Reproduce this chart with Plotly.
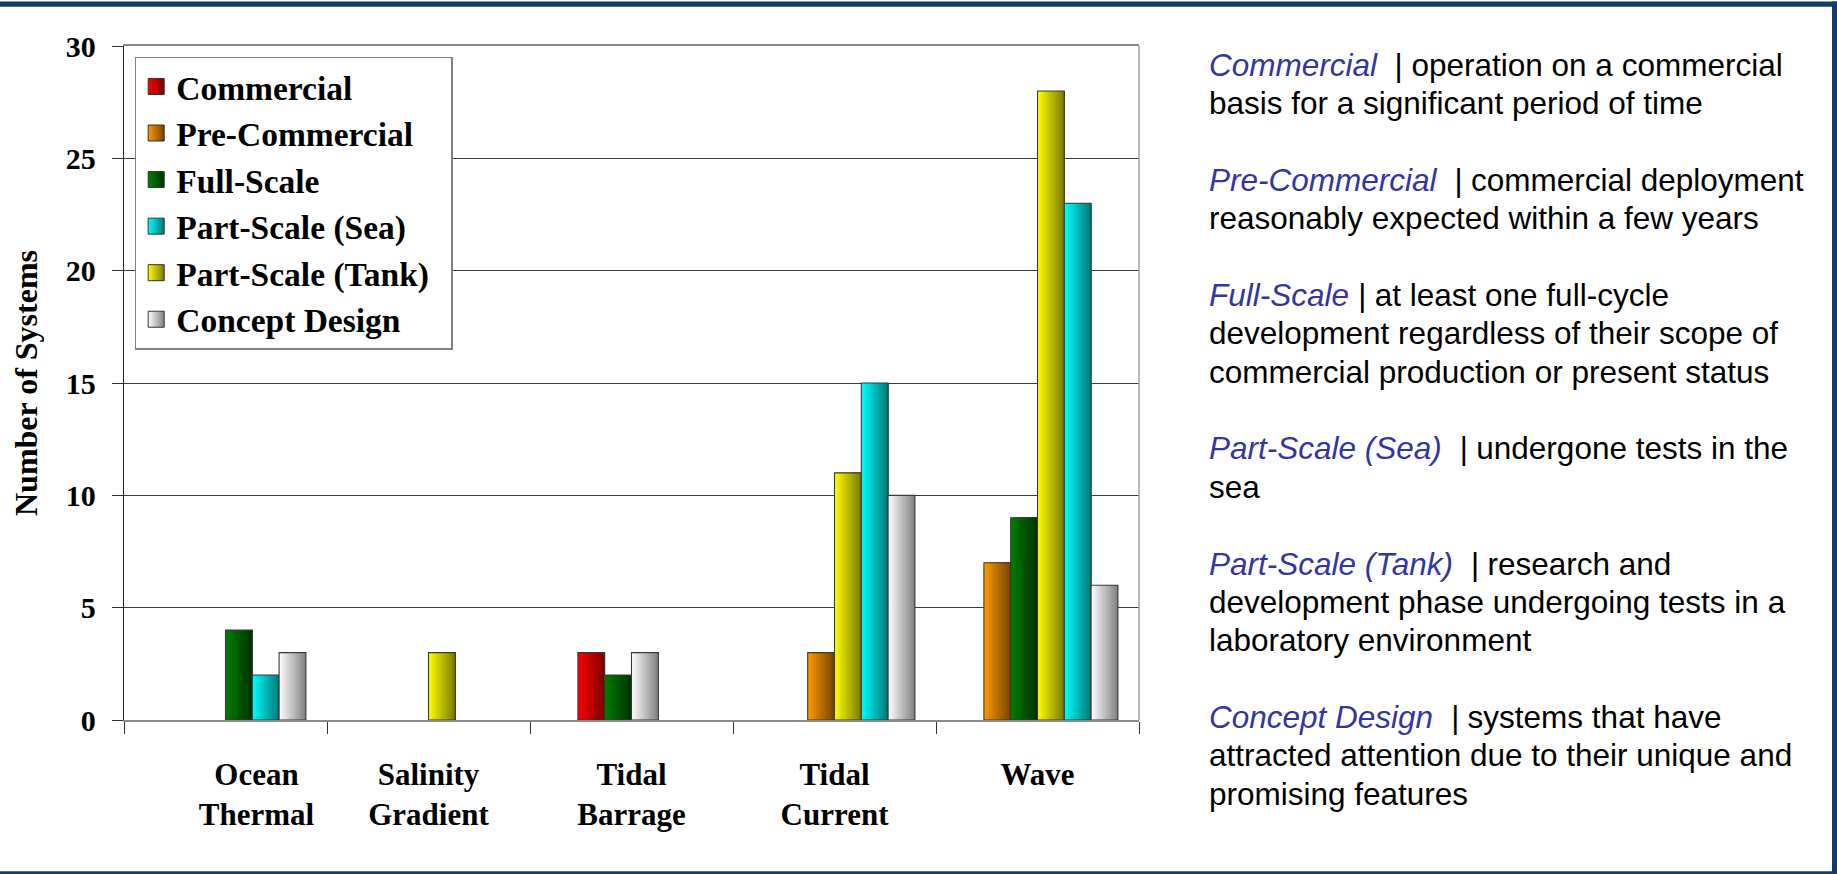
import plotly.graph_objects as go

# ---------------- data ----------------
CATEGORIES = ["Ocean Thermal", "Salinity Gradient", "Tidal Barrage", "Tidal Current", "Wave"]
CATEGORY_LINES = [["Ocean", "Thermal"], ["Salinity", "Gradient"], ["Tidal", "Barrage"],
                  ["Tidal", "Current"], ["Wave"]]

SERIES = ["Commercial", "Pre-Commercial", "Full-Scale", "Part-Scale (Sea)",
          "Part-Scale (Tank)", "Concept Design"]
COMMERCIAL = [0, 0, 3, 0, 0]
PRE_COMMERCIAL = [0, 0, 0, 3, 7]
FULL_SCALE = [4, 0, 2, 0, 9]
PART_SCALE_SEA = [2, 0, 0, 15, 23]
PART_SCALE_TANK = [0, 3, 0, 11, 28]
CONCEPT_DESIGN = [3, 0, 3, 10, 6]

Y_TICKS = [0, 5, 10, 15, 20, 25, 30]
Y_TITLE = "Number of Systems"

DEF_TERMS = ["Commercial", "Pre-Commercial", "Full-Scale", "Part-Scale (Sea)",
             "Part-Scale (Tank)", "Concept Design"]
DEF_FIRST = ["operation on a commercial", "commercial deployment", "at least one full-cycle",
             "undergone tests in the", "research and", "systems that have"]
DEF_MORE = [["basis for a significant period of time"],
            ["reasonably expected within a few years"],
            ["development regardless of their scope of", "commercial production or present status"],
            ["sea"],
            ["development phase undergoing tests in a", "laboratory environment"],
            ["attracted attention due to their unique and", "promising features"]]

# ---------------- styles / layout ----------------
VALUES = {
    "Commercial": COMMERCIAL, "Pre-Commercial": PRE_COMMERCIAL, "Full-Scale": FULL_SCALE,
    "Part-Scale (Sea)": PART_SCALE_SEA, "Part-Scale (Tank)": PART_SCALE_TANK,
    "Concept Design": CONCEPT_DESIGN,
}
# bright (left) -> dark (right) shading of each series
GRAD = {
    "Commercial": ("#FF0000", "#7A0000"),
    "Pre-Commercial": ("#FF9A00", "#744400"),
    "Full-Scale": ("#007F00", "#003200"),
    "Part-Scale (Sea)": ("#00FFFF", "#007878"),
    "Part-Scale (Tank)": ("#FFFF00", "#7A7A00"),
    "Concept Design": ("#FFFFFF", "#808080"),
}
BAR_ORDER = ["Commercial", "Pre-Commercial", "Full-Scale", "Part-Scale (Tank)",
             "Part-Scale (Sea)", "Concept Design"]
GROUP_START_SLOT = [3, 3, 1, 2, 1]   # where each category's packed group of bars begins
N_SLOTS = 6
SLOT_W = 0.132
N_STRIPS = 16
LABEL_PAD = {0: 8}                    # nbsp padding (first category label sits right)
LEGEND_RIGHT_PAD = 2                  # nbsp after legend names (wider legend box)

SERIF = "Liberation Serif, Times New Roman, serif"
SANS = "Liberation Sans, Arial, sans-serif"
BLUE = "#3535A0"
NAVY = "#123B6B"
NBSP = "\u00a0"

W, H = 1837, 874
ML, MR, MT, MB = 124, 698, 46, 154
PW, PH = W - ML - MR, H - MT - MB


def px_x(px):
    return (px - ML) / PW


def px_y(py):
    return (H - MB - py) / PH


def hex2rgb(h):
    h = h.lstrip("#")
    return tuple(int(h[i:i + 2], 16) for i in (0, 2, 4))


def mix(c1, c2, t):
    a, b = hex2rgb(c1), hex2rgb(c2)
    return "rgb(%d,%d,%d)" % tuple(round(a[k] + (b[k] - a[k]) * t) for k in range(3))


# slot offsets: non-zero bars are packed next to each other inside each category
offsets = {s: [0.0] * len(CATEGORIES) for s in SERIES}
for ci in range(len(CATEGORIES)):
    slot = GROUP_START_SLOT[ci]
    for s in BAR_ORDER:
        if VALUES[s][ci] > 0:
            offsets[s][ci] = (slot - N_SLOTS / 2) * SLOT_W
            slot += 1

fig = go.Figure()

for s in BAR_ORDER:
    yv = [v if v > 0 else None for v in VALUES[s]]
    bright, dark = GRAD[s]
    for i in range(N_STRIPS):
        t = (i + 0.5) / N_STRIPS
        fig.add_trace(go.Bar(
            x=CATEGORIES, y=yv,
            offset=[o + i * SLOT_W / N_STRIPS for o in offsets[s]],
            width=SLOT_W * (1 - i / N_STRIPS),
            marker=dict(color=mix(bright, dark, t), line=dict(width=0)),
            showlegend=False, hoverinfo="skip", name=s,
        ))
    fig.add_trace(go.Bar(
        x=CATEGORIES, y=yv, offset=offsets[s], width=SLOT_W,
        marker=dict(color="rgba(0,0,0,0)", line=dict(color="#383838", width=1.1)),
        showlegend=False, hoverinfo="skip", name=s,
    ))

# legend entries (shaded squares)
for s in SERIES:
    bright, dark = GRAD[s]
    fig.add_trace(go.Scatter(
        x=[None], y=[None], mode="markers", name=s + NBSP * LEGEND_RIGHT_PAD,
        marker=dict(symbol="square", size=16, color=bright,
                    gradient=dict(type="horizontal", color=dark),
                    line=dict(color="#333333", width=1)),
        hoverinfo="skip",
    ))

tick_text = []
for ci, lines in enumerate(CATEGORY_LINES):
    pad = NBSP * LABEL_PAD.get(ci, 0)
    tick_text.append("<br>".join(pad + ln for ln in lines))

fig.update_layout(
    width=W, height=H,
    margin=dict(l=ML, r=MR, t=MT, b=MB, pad=0),
    paper_bgcolor="white", plot_bgcolor="white",
    barmode="overlay",
    showlegend=True,
    legend=dict(
        x=px_x(134.7), y=px_y(56.7), xanchor="left", yanchor="top",
        bgcolor="white", bordercolor="#808080", borderwidth=1.5,
        font=dict(family=SERIF, size=33.5, color="black", weight="bold"),
        traceorder="normal", itemsizing="trace",
    ),
    font=dict(family=SERIF, color="black"),
)

fig.update_xaxes(
    type="category", range=[-0.5, len(CATEGORIES) - 0.5],
    tickmode="array", tickvals=CATEGORIES, ticktext=tick_text,
    tickson="boundaries", ticks="outside", ticklen=12, tickwidth=1.2, tickcolor="#333333",
    tickfont=dict(family=SERIF, size=31, color="black", weight="bold"),
    ticklabelstandoff=26,
    showline=True, linecolor="#8a8a8a", linewidth=1.5, mirror=True,
    showgrid=False, zeroline=False, fixedrange=True,
)
fig.update_yaxes(
    range=[0, 30], tickmode="array", tickvals=Y_TICKS, ticktext=[str(v) for v in Y_TICKS],
    ticks="outside", ticklen=11, tickwidth=1.2, tickcolor="#333333",
    tickfont=dict(family=SERIF, size=30, color="black", weight="bold"),
    ticklabelstandoff=10,
    showline=True, linecolor="#222222", linewidth=1.3,
    showgrid=True, gridcolor="#3a3a3a", gridwidth=1,
    zeroline=False, fixedrange=True,
    title=dict(text=Y_TITLE, font=dict(family=SERIF, size=32, color="black", weight="bold"),
               standoff=18),
    automargin=True,
)

shapes = [
    # plot area right border
    dict(type="line", xref="paper", yref="paper", x0=1, x1=1, y0=0, y1=1,
         line=dict(color="#a0a0a0", width=1.5)),
    # dark frame of the slide
    dict(type="rect", xref="paper", yref="paper", x0=px_x(0), x1=px_x(W),
         y0=px_y(6.8), y1=px_y(1.6), fillcolor=NAVY, line=dict(width=0), layer="above"),
    dict(type="rect", xref="paper", yref="paper", x0=px_x(1832), x1=px_x(W),
         y0=px_y(H), y1=px_y(1.6), fillcolor=NAVY, line=dict(width=0), layer="above"),
    dict(type="rect", xref="paper", yref="paper", x0=px_x(0), x1=px_x(W),
         y0=px_y(H), y1=px_y(871.3), fillcolor=NAVY, line=dict(width=0), layer="above"),
]
fig.update_layout(shapes=shapes)

# definitions panel on the right
TEXT_X = 1207
FIRST_BASE = 76
LINE_STEP = 38.35
TXT_SIZE = 31.5
annotations = []
k = 0
for p, term in enumerate(DEF_TERMS):
    if p == 0:
        sep = NBSP + " | "
    elif p == 2:
        sep = " <i>|</i> "
    else:
        sep = NBSP + " <i>|</i> "
    first = "<i><span style='color:%s'>%s</span></i>%s%s" % (BLUE, term, sep, DEF_FIRST[p])
    lines = [first] + DEF_MORE[p]
    for ln in lines:
        base = FIRST_BASE + LINE_STEP * k
        annotations.append(dict(
            xref="paper", yref="paper", x=px_x(TEXT_X), y=px_y(base - 0.35 * TXT_SIZE),
            xanchor="left", yanchor="middle", showarrow=False, align="left",
            text=ln, font=dict(family=SANS, size=TXT_SIZE, color="black"),
        ))
        k += 1
    k += 1
fig.update_layout(annotations=annotations)

fig.write_html("out.html")
